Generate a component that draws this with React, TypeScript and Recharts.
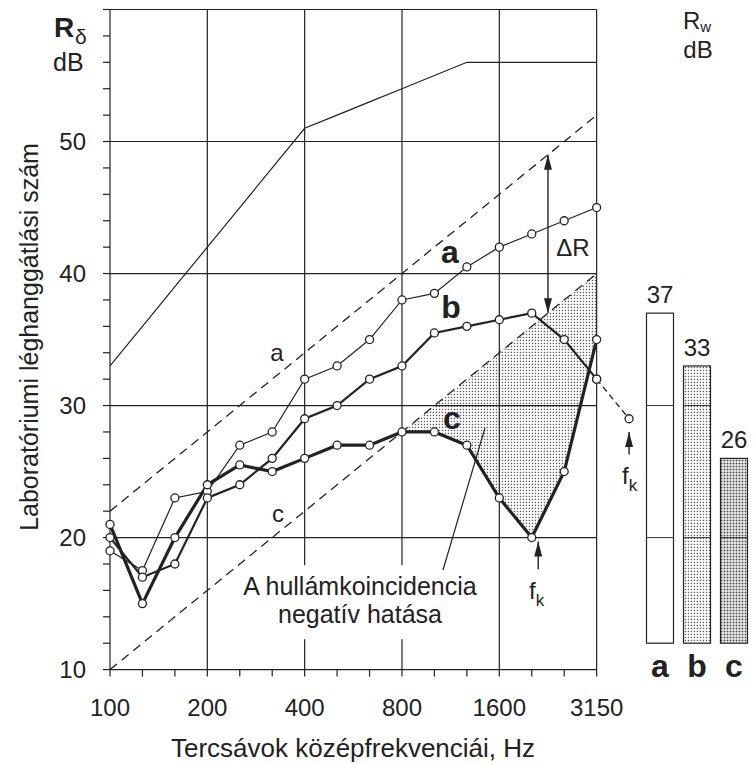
import React from "react";
import {
  ComposedChart,
  BarChart,
  Bar,
  Line,
  Area,
  XAxis,
  YAxis,
  ReferenceLine,
  LabelList,
} from "recharts";

const FONT = "'Liberation Sans', Arial, Helvetica, sans-serif";
const INK = "#222";

// third-octave band centres (Hz), index 0..16
const bands = ["100", "125", "160", "200", "250", "315", "400", "500", "630", "800", "1000", "1250", "1600", "2000", "2500", "3150", "4000"];
const bandTicks = [0, 1, 2, 3, 4, 5, 6, 7, 8, 9, 10, 11, 12, 13, 14, 15];
const labelledBands = [0, 3, 6, 9, 12, 15];
const dbTicks = [10, 12, 14, 16, 18, 20, 22, 24, 26, 28, 30, 32, 34, 36, 38, 40, 42, 44, 46, 48, 50, 52, 54, 56, 58, 60];
const labelledDb = [10, 20, 30, 40, 50];

// reference curve (thin solid line at the top)
const refCurve = [33, 36, 39, 42, 45, 48, 51, 52, 53, 54, 55, 56, 56, 56, 56, 56];
// measured curves
const seriesA = [19, 17.5, 23, 23.5, 27, 28, 32, 33, 35, 38, 38.5, 40.5, 42, 43, 44, 45];
const seriesB = [20, 17, 18, 23, 24, 26, 29, 30, 32, 33, 35.5, 36, 36.5, 37, 35, 32];
const seriesC = [21, 15, 20, 24, 25.5, 25, 26, 27, 27, 28, 28, 27, 23, 20, 25, 35];
// dashed continuation of b (3150 -> 4000 Hz)
const bExtFrom = 15;
const seriesBExt = [32, 29];
// upper limit of the shaded (coincidence dip) region, bands 800..3150
const shadeFrom = 9;
const shadeTop = [28, 30, 32, 34, 36, 38, 40];
// dashed guide lines [start @100 Hz, end @3150 Hz]
const guideUpper = [22, 52];
const guideLower = [10, 40];

// weighted index bars
const rwNames = ["a", "b", "c"];
const rwValues = [37, 33, 26];
const rwBase = 12;

const rows = bands.map((f, i) => ({
  i,
  f,
  ref: refCurve[i] ?? null,
  a: seriesA[i] ?? null,
  b: seriesB[i] ?? null,
  c: seriesC[i] ?? null,
  bExt: i >= bExtFrom ? seriesBExt[i - bExtFrom] ?? null : null,
  shade:
    i >= shadeFrom && i - shadeFrom < shadeTop.length
      ? [seriesC[i], shadeTop[i - shadeFrom]]
      : null,
}));

const rwRows = rwNames.map((name, k) => ({ name, rw: rwValues[k], range: [rwBase, rwValues[k]] }));

const dot = { r: 4, fill: "#fff", stroke: INK, strokeWidth: 1.3, strokeDasharray: "none" };

function arrowShape(both: boolean) {
  return (p: any) => {
    const { x1, y1, x2, y2 } = p;
    const head = (tx: number, ty: number, fx: number, fy: number) => {
      const dx = tx - fx;
      const dy = ty - fy;
      const len = Math.hypot(dx, dy) || 1;
      const ux = dx / len;
      const uy = dy / len;
      const L = 15;
      const hw = 4;
      const bx = tx - ux * L;
      const by = ty - uy * L;
      return (
        <polygon
          points={`${tx},${ty} ${bx - uy * hw},${by + ux * hw} ${bx + uy * hw},${by - ux * hw}`}
          fill={INK}
        />
      );
    };
    return (
      <g>
        <line x1={x1} y1={y1} x2={x2} y2={y2} stroke={INK} strokeWidth={1.4} />
        {head(x2, y2, x1, y1)}
        {both && head(x1, y1, x2, y2)}
      </g>
    );
  };
}

function RwBar(props: any) {
  const { x, y, width, height, index } = props;
  const v = rwValues[index];
  const top = Math.min(y, y + height);
  const h = Math.abs(height);
  const fills = ["#fff", "url(#rwDotsLight)", "url(#rwDotsDark)"];
  const yAt = (t: number) => top + (h * (v - t)) / (v - rwBase);
  const inner = [20, 30].filter((t) => t < v && t > rwBase);
  return (
    <g>
      <rect x={x} y={top} width={width} height={h} fill={fills[index]} stroke={INK} strokeWidth={1.2} />
      {inner.map((t) => (
        <line key={t} x1={x} x2={x + width} y1={yAt(t)} y2={yAt(t)} stroke="#333" strokeWidth={1} />
      ))}
    </g>
  );
}

const gridProps = { stroke: INK, strokeWidth: 1.2, ifOverflow: "visible" as const };

export default function App() {
  return (
    <div style={{ position: "absolute", left: 0, top: 0, width: 754, height: 764, background: "#fff" }}>
      <div style={{ position: "absolute", left: 0, top: 0 }}>
        <ComposedChart
          width={754}
          height={764}
          data={rows}
          margin={{ top: 9.5, right: 108.7, bottom: 54.4, left: 60 }}
        >
          <defs>
            <pattern id="shadeDots" width={3} height={3} patternUnits="userSpaceOnUse">
              <rect x={0.8} y={0.8} width={1.3} height={1.3} fill="#555" />
            </pattern>
          </defs>
          <XAxis
            dataKey="i"
            type="number"
            domain={[0, 16.5]}
            ticks={bandTicks}
            interval={0}
            axisLine={false}
            height={40}
            tickSize={7}
            tickMargin={22}
            tickLine={{ stroke: INK, strokeWidth: 1.2 }}
            tick={{ fill: INK, fontSize: 24, fontFamily: FONT }}
            tickFormatter={(v: number) => (labelledBands.includes(v) ? bands[v] : "")}
          />
          <YAxis
            type="number"
            domain={[10, 60]}
            ticks={dbTicks}
            interval={0}
            width={50}
            tickSize={7}
            tickMargin={17}
            axisLine={{ stroke: INK, strokeWidth: 1.2 }}
            tickLine={{ stroke: INK, strokeWidth: 1.2 }}
            tick={{ fill: INK, fontSize: 24, fontFamily: FONT }}
            tickFormatter={(v: number) => (labelledDb.includes(v) ? String(v) : "")}
          />

          <Area
            dataKey="shade"
            type="linear"
            stroke="none"
            fill="url(#shadeDots)"
            fillOpacity={1}
            dot={false}
            activeDot={false}
            isAnimationActive={false}
          />

          {/* frame and grid */}
          {[20, 30, 40, 50, 60, 10].map((v) => (
            <ReferenceLine key={`h${v}`} segment={[{ x: 0, y: v }, { x: 15, y: v }]} {...gridProps} />
          ))}
          {[3, 12, 15].map((b) => (
            <ReferenceLine key={`v${b}`} segment={[{ x: b, y: 10 }, { x: b, y: 60 }]} {...gridProps} />
          ))}
          {[6, 9].map((b) => (
            <ReferenceLine key={`vt${b}`} segment={[{ x: b, y: 17.9 }, { x: b, y: 60 }]} {...gridProps} />
          ))}
          {[6, 9].map((b) => (
            <ReferenceLine key={`vb${b}`} segment={[{ x: b, y: 10 }, { x: b, y: 12.3 }]} {...gridProps} />
          ))}

          {/* dashed guides */}
          <ReferenceLine
            segment={[{ x: 0, y: guideUpper[0] }, { x: 15, y: guideUpper[1] }]}
            stroke={INK}
            strokeWidth={1.3}
            strokeDasharray="9 6"
            ifOverflow="visible"
          />
          <ReferenceLine
            segment={[{ x: 0, y: guideLower[0] }, { x: 15, y: guideLower[1] }]}
            stroke={INK}
            strokeWidth={1.3}
            strokeDasharray="9 6"
            ifOverflow="visible"
          />

          {/* arrows */}
          <ReferenceLine segment={[{ x: 13.5, y: 37 }, { x: 13.5, y: 49 }]} shape={arrowShape(true)} ifOverflow="visible" />
          <ReferenceLine segment={[{ x: 13.2, y: 17.6 }, { x: 13.2, y: 19.7 }]} shape={arrowShape(false)} ifOverflow="visible" />
          <ReferenceLine segment={[{ x: 16, y: 26.3 }, { x: 16, y: 28.0 }]} shape={arrowShape(false)} ifOverflow="visible" />

          <Line dataKey="ref" stroke={INK} strokeWidth={1.2} dot={false} activeDot={false} isAnimationActive={false} />
          <Line dataKey="bExt" stroke={INK} strokeWidth={1.3} strokeDasharray="6 4" dot={dot} activeDot={false} isAnimationActive={false} />
          <Line dataKey="a" stroke={INK} strokeWidth={1.2} dot={dot} activeDot={false} isAnimationActive={false} />
          <Line dataKey="b" stroke={INK} strokeWidth={2.2} dot={dot} activeDot={false} isAnimationActive={false} />
          <Line dataKey="c" stroke={INK} strokeWidth={3.2} dot={dot} activeDot={false} isAnimationActive={false} />
        </ComposedChart>
      </div>

      <div style={{ position: "absolute", left: 0, top: 0 }}>
        <BarChart
          width={754}
          height={764}
          data={rwRows}
          margin={{ top: 9.5, right: 1.5, bottom: 94.4, left: 641.5 }}
        >
          <defs>
            <pattern id="rwDotsLight" width={3} height={3} patternUnits="userSpaceOnUse">
              <rect width={3} height={3} fill="#fff" />
              <rect x={0.8} y={0.8} width={1.3} height={1.3} fill="#555" />
            </pattern>
            <pattern id="rwDotsDark" width={3} height={3} patternUnits="userSpaceOnUse">
              <rect width={3} height={3} fill="#fff" />
              <rect x={0.6} y={0.6} width={1.8} height={1.8} fill="#444" />
            </pattern>
          </defs>
          <XAxis dataKey="name" hide />
          <YAxis type="number" domain={[10, 60]} hide />
          <Bar dataKey="range" barSize={27} shape={<RwBar />} isAnimationActive={false}>
            <LabelList dataKey="rw" position="top" offset={10} fill={INK} fontSize={24} fontFamily={FONT} />
          </Bar>
        </BarChart>
      </div>

      <svg
        width={754}
        height={764}
        style={{ position: "absolute", left: 0, top: 0, pointerEvents: "none" }}
        fontFamily={FONT}
        fill={INK}
      >
        {/* axis titles */}
        <text x={54} y={37} fontSize={28} fontWeight="bold">R</text>
        <text x={75} y={44} fontSize={21}>δ</text>
        <text x={53} y={71} fontSize={25}>dB</text>
        <text x={683} y={29} fontSize={24}>R<tspan fontSize={15} dy={3}>w</tspan></text>
        <text x={698} y={58} fontSize={24} textAnchor="middle">dB</text>
        <text transform="translate(38,337) rotate(-90)" fontSize={25} textAnchor="middle">
          Laboratóriumi léghanggátlási szám
        </text>
        <text x={353} y={757} fontSize={26} textAnchor="middle">Tercsávok középfrekvenciái, Hz</text>

        {/* annotations */}
        <text x={277} y={361} fontSize={24} textAnchor="middle">a</text>
        <text x={278} y={522} fontSize={24} textAnchor="middle">c</text>
        <text x={450} y={263} fontSize={32} fontWeight="bold" textAnchor="middle">a</text>
        <text x={451} y={318} fontSize={32} fontWeight="bold" textAnchor="middle">b</text>
        <text x={452} y={429} fontSize={32} fontWeight="bold" textAnchor="middle">c</text>
        <text x={573} y={256} fontSize={24} textAnchor="middle">ΔR</text>
        <text x={529} y={599} fontSize={24}>f<tspan fontSize={17} dy={7}>k</tspan></text>
        <text x={622} y={484} fontSize={24}>f<tspan fontSize={17} dy={7}>k</tspan></text>
        <text x={360} y={595} fontSize={25} textAnchor="middle">A hullámkoincidencia</text>
        <text x={360} y={623} fontSize={25} textAnchor="middle">negatív hatása</text>
        <line x1={443} y1={570} x2={485} y2={428} stroke={INK} strokeWidth={1.2} />
        {rwNames.map((n, k) => (
          <text key={n} x={660 + k * 37} y={677} fontSize={32} fontWeight="bold" textAnchor="middle">
            {n}
          </text>
        ))}
      </svg>
    </div>
  );
}
